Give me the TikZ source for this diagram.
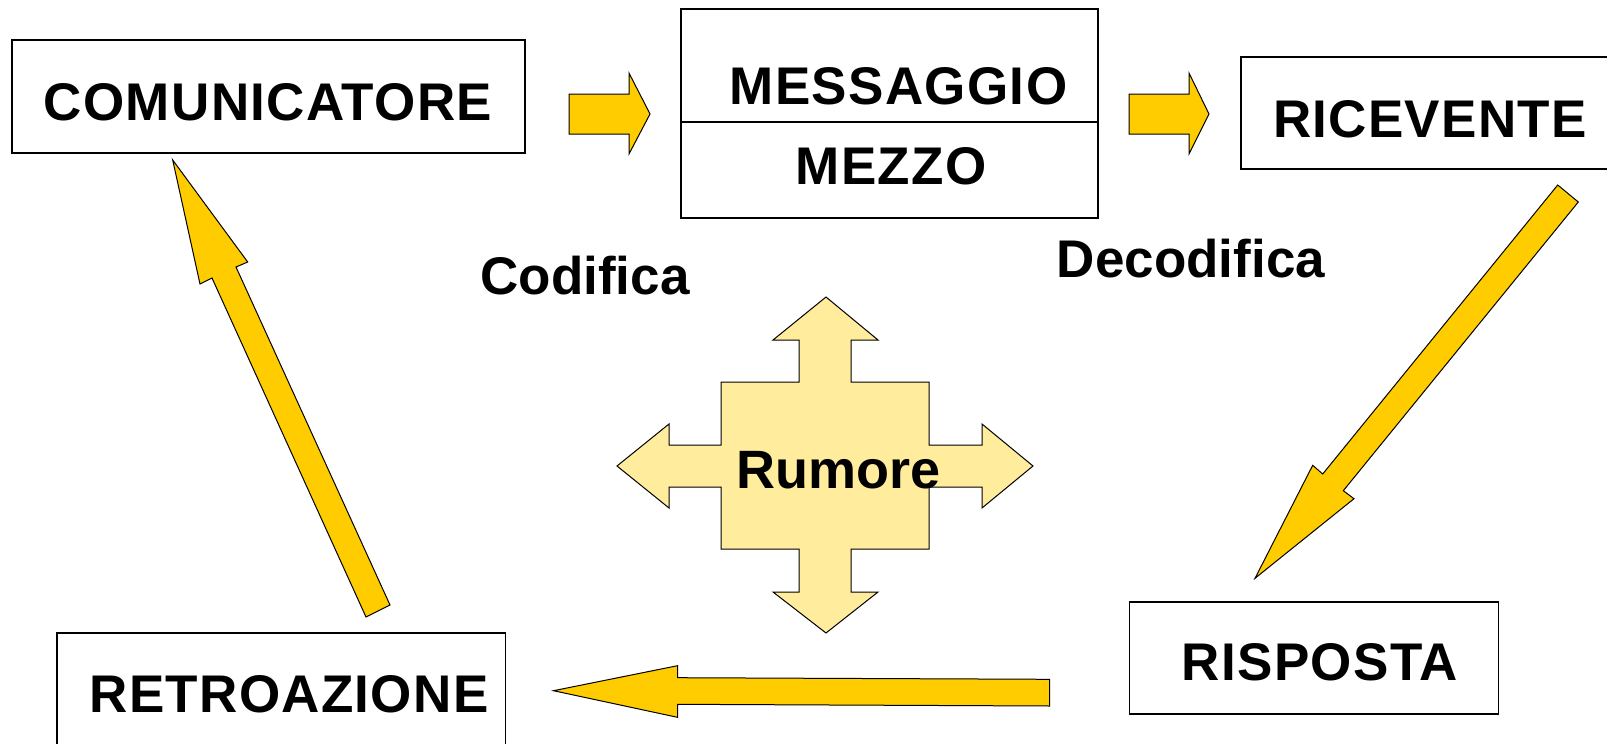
\documentclass[tikz,border=0pt]{standalone}
\usepackage{fontspec}
\setmainfont{Liberation Sans}
\newfontfamily\capsfont[LetterSpace=2.5]{Liberation Sans}
\definecolor{arrowyellow}{HTML}{FFCC00}
\definecolor{noiseyellow}{HTML}{FFEC9D}
\begin{document}
\begin{tikzpicture}[x=1pt,y=-1pt,
  box/.style={draw=black,line width=1.5pt,fill=white},
  lbl/.style={inner sep=0pt,anchor=base,font=\fontsize{53}{60}\selectfont\bfseries},
  caplbl/.style={inner sep=0pt,anchor=base,font=\capsfont\fontsize{53}{60}\selectfont\bfseries},
  blockarrow/.style={draw=black,line width=1pt,fill=arrowyellow,line join=miter},
  noise/.style={draw=black,line width=1pt,fill=noiseyellow,line join=miter}]
\useasboundingbox (0,0) rectangle (1607,744);
\clip (0,0) rectangle (1607,744);
\fill[white] (0,0) rectangle (1607,744);
% boxes
\draw[box] (12,40) rectangle (525,153);
\draw[box] (681,9) rectangle (1098,218);
\draw[line width=1.5pt] (681,122) -- (1098,122);
\draw[box] (1241,57) rectangle (1620,169);
\draw[box] (1129.5,602) rectangle (1498.5,714);
\draw[box] (57,633) rectangle (505.5,760);
% labels
\node[caplbl] (com) at (268,120.7) {COMUNICATORE};
\node[caplbl] (msg) at (898.5,104.3) {MESSAGGIO};
\node[caplbl] (mez) at (891,184.3) {MEZZO};
\node[caplbl] (ric) at (1430,137) {RICEVENTE};
\node[caplbl] (ris) at (1320,680.7) {RISPOSTA};
\node[caplbl] (ret) at (289,712.7) {RETROAZIONE};
\node[lbl] (cod) at (585,294) {Codifica};
\node[lbl] (dec) at (1191,277) {Decodifica};
% small arrows
\draw[blockarrow] (569,94) -- (629,94) -- (629,73) -- (650,114) -- (629,154) -- (629,134) -- (569,134) -- cycle;
\draw[blockarrow] (1129,94) -- (1189,94) -- (1189,73) -- (1209,114) -- (1189,154) -- (1189,134) -- (1129,134) -- cycle;
% big arrows
\draw[blockarrow] (366,617) -- (212,278) -- (200,284) -- (172.7,160) -- (247.7,262) -- (236,267) -- (390,605) -- cycle;
\draw[blockarrow] (1557.7,185) -- (1578.3,202) -- (1343.3,490.7) -- (1354,498.7) -- (1255,578.3) -- (1312.7,465.3) -- (1322.7,474) -- cycle;
\draw[blockarrow] (1049.5,679.3) -- (677.5,677.7) -- (677.5,665.7) -- (553.5,690.7) -- (677.5,717.3) -- (677.5,704.3) -- (1049.5,706) -- cycle;
% noise cross
\draw[noise] (826,297) -- (878,340) -- (851,340) -- (851,382) -- (929,382) -- (929,445) -- (982,445) -- (982,424) -- (1033,466) -- (982,508) -- (982,487) -- (929,487) -- (929,549) -- (851,549) -- (851,592) -- (878,592) -- (826,633) -- (773,592) -- (799,592) -- (799,549) -- (721,549) -- (721,487) -- (669,487) -- (669,508) -- (617,466) -- (669,424) -- (669,445) -- (721,445) -- (721,382) -- (799,382) -- (799,340) -- (773,340) -- cycle;
\node[lbl,font=\fontsize{54}{60}\selectfont\bfseries] (rum) at (838.5,488) {Rumore};
\end{tikzpicture}
\end{document}
